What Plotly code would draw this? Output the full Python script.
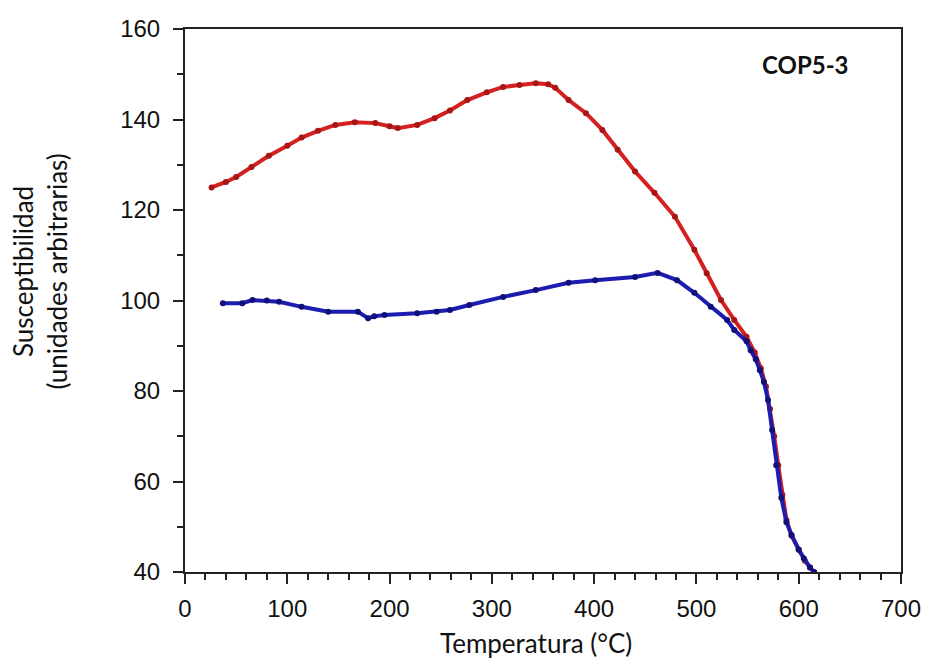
import plotly.graph_objects as go

# Red curve (heating)
red_x = [26, 40, 50, 65, 82, 100, 114, 130, 147, 166, 186, 200, 208, 227, 244, 259, 276, 295,
         311, 327, 343, 355, 362, 375, 392, 408, 423, 440, 459, 479, 498, 510, 524, 537, 549,
         557, 563, 568, 572, 576, 580, 584, 588, 593, 600, 606, 611, 615]
red_y = [125, 126.2, 127.3, 129.5, 132, 134.2, 136, 137.5, 138.8, 139.4, 139.2, 138.5, 138.1,
         138.8, 140.3, 142, 144.3, 146, 147.2, 147.6, 148, 147.8, 147, 144.3, 141.4, 137.7,
         133.3, 128.5, 123.8, 118.5, 111.2, 106, 100.1, 95.7, 92, 88.5, 85, 81, 76, 70, 63.6,
         57, 51.5, 48, 45, 42.5, 41, 40]

# Blue curve (cooling)
blue_x = [37, 56, 66, 80, 92, 114, 140, 169, 179, 185, 195, 227, 246, 259, 278, 311, 343,
          375, 401, 440, 462, 481, 498, 514, 530, 537, 549, 553, 558, 562, 566, 570, 574, 578,
          583, 588, 593, 600, 605, 611, 615]
blue_y = [99.4, 99.4, 100.1, 100, 99.7, 98.6, 97.5, 97.5, 96.1, 96.5, 96.8, 97.2, 97.5,
          97.9, 99, 100.8, 102.3, 103.9, 104.5, 105.2, 106.1, 104.5, 101.7, 98.6, 95.7, 93.5,
          91, 89, 87, 84.6, 82, 78, 71.4, 63.6, 56.4, 51, 48.2, 44.9, 43, 41, 40]

x_ticks = [0, 100, 200, 300, 400, 500, 600, 700]
y_ticks = [40, 60, 80, 100, 120, 140, 160]

fig = go.Figure()
fig.add_trace(go.Scatter(x=red_x, y=red_y, mode="lines+markers",
                         line=dict(color="#d42020", width=4),
                         marker=dict(color="#a81515", size=6),
                         showlegend=False))
fig.add_trace(go.Scatter(x=blue_x, y=blue_y, mode="lines+markers",
                         line=dict(color="#1c1cb0", width=4),
                         marker=dict(color="#101078", size=6),
                         showlegend=False))

axis_common = dict(showline=True, linecolor="#222222", linewidth=2, mirror=True,
                   showgrid=False, zeroline=False, ticks="outside", ticklen=10,
                   tickwidth=2, tickcolor="#222222",
                   tickfont=dict(family="Liberation Sans, Arial", size=24, color="#111111"))

fig.update_xaxes(range=[0, 700], tickvals=x_ticks,
                 minor=dict(dtick=20, ticks="outside", ticklen=6, tickwidth=1.5, tickcolor="#222222"),
                 ticklabelstandoff=4,
                 **axis_common)
fig.update_yaxes(range=[40, 160], tickvals=y_ticks,
                 minor=dict(dtick=10, ticks="outside", ticklen=6, tickwidth=1.5, tickcolor="#222222"),
                 ticklabelstandoff=8,
                 **axis_common)

title_font = dict(family="Lato, Open Sans", size=26, color="#111111")
fig.add_annotation(text="Temperatura (°C)", xref="paper", yref="paper",
                   x=0.49, y=-0.131, xanchor="center", yanchor="middle",
                   showarrow=False, font=title_font)
fig.add_annotation(text="Susceptibilidad<br>(unidades arbitrarias)", xref="paper", yref="paper",
                   x=-0.202, y=0.554, xanchor="center", yanchor="middle", textangle=-90,
                   showarrow=False, font=title_font)
fig.add_annotation(text="<b>COP5-3</b>", xref="paper", yref="paper",
                   x=0.866, y=0.935, xanchor="center", yanchor="middle",
                   showarrow=False, font=dict(family="Lato, Open Sans", size=24, color="#111111"))

fig.update_layout(width=933, height=663, margin=dict(l=185, r=24, t=29, b=91),
                  plot_bgcolor="white", paper_bgcolor="white")

fig.write_html("out.html")
